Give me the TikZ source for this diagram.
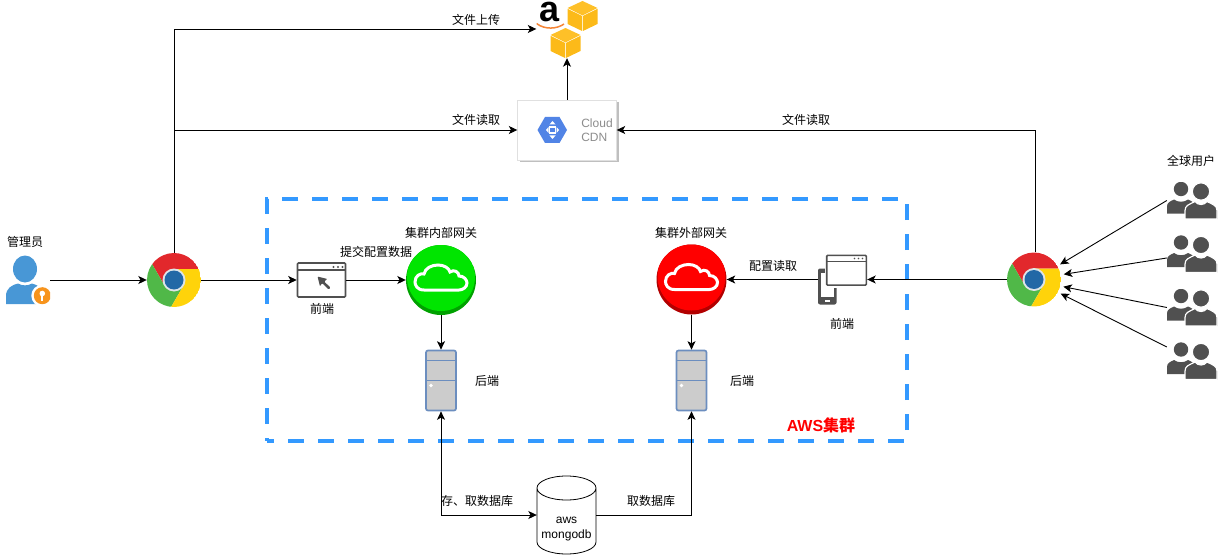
\documentclass[tikz,border=0pt]{standalone}
\usepackage{fontspec}
\setmainfont{Noto Sans CJK SC}
\newfontfamily\latinfont{Liberation Sans}
\usetikzlibrary{arrows.meta,shadows}
\definecolor{IconGray}{RGB}{80,80,80}
\definecolor{AwsBlue}{RGB}{51,153,255}
\definecolor{AwsYellow}{RGB}{252,186,25}
\definecolor{AwsYellowTop}{RGB}{254,192,40}
\definecolor{AwsOrange}{RGB}{245,133,54}
\definecolor{ChromeRed}{RGB}{226,40,44}
\definecolor{ChromeGreen}{RGB}{80,184,72}
\definecolor{ChromeYellow}{RGB}{255,211,10}
\definecolor{ChromeBlue}{RGB}{34,104,166}
\definecolor{ChromeRing}{RGB}{222,228,232}
\definecolor{AdminBlue}{RGB}{72,151,214}
\definecolor{KeyOrange}{RGB}{247,148,29}
\definecolor{CdnBlue}{RGB}{81,132,230}
\definecolor{ServerBorder}{RGB}{108,142,191}
\definecolor{ServerFill}{RGB}{204,204,204}
\newcommand{\awscube}[2]{%
  \fill[AwsYellowTop] (#1,#2-15) -- (#1+15,#2-8) -- (#1,#2-0.6) -- (#1-15,#2-8) -- cycle;
  \fill[AwsYellow] (#1-15,#2-7.2) -- (#1-0.4,#2) -- (#1-0.4,#2+15) -- (#1-15,#2+8) -- cycle;
  \fill[AwsYellow] (#1+15,#2-7.2) -- (#1+0.4,#2) -- (#1+0.4,#2+15) -- (#1+15,#2+8) -- cycle;
}
\newcommand{\cloudline}{%
  \draw[white,line width=3pt] (-17,10) .. controls (-24,10) and (-26,5) .. (-26,2)
    .. controls (-26,-4) and (-21,-7) .. (-17,-6) .. controls (-16,-12) and (-9,-15) .. (-3,-15)
    .. controls (3,-15) and (8,-12) .. (9,-8) .. controls (13,-11) and (18,-8) .. (18,-4)
    .. controls (23,-4) and (26,0) .. (26,3) .. controls (26,7) and (22,10) .. (18,10) -- cycle;
}
\tikzset{
  iconframe/.style={shift={(path picture bounding box.center)}},
  lbl/.style={font=\fontsize{12}{14}\selectfont, inner sep=0pt},
  reltip/.tip={Stealth[length=8.5pt,width=8pt,inset=2.2pt]},
  rel/.style={-reltip, line width=0.9pt, black},
  fanrel/.style={rel, shorten >=3pt},
  awsbox/.style={draw=AwsBlue, line width=4.5pt, dash pattern=on 16pt off 14pt, dash phase=9pt,
                minimum width=640, minimum height=242},
  chromeicon/.style={circle, minimum size=54, inner sep=0pt, path picture={
    \begin{scope}[iconframe]
      \fill[ChromeRed] (0,0) -- (90:11pt) -- (24:27pt) arc[start angle=24,end angle=144,radius=27pt] -- (210:11pt) -- cycle;
      \fill[ChromeGreen] (0,0) -- (210:11pt) -- (144:27pt) arc[start angle=144,end angle=264,radius=27pt] -- (330:11pt) -- cycle;
      \fill[ChromeYellow] (0,0) -- (330:11pt) -- (264:27pt) arc[start angle=264,end angle=384,radius=27pt] -- (90:11pt) -- cycle;
      \fill[ChromeRing] (0,0) circle[radius=11.5pt];
      \fill[ChromeBlue] (0,0) circle[radius=9.5pt];
    \end{scope}}},
  gateway/.style={circle, minimum size=70, inner sep=0pt, path picture={
    \begin{scope}[iconframe]
      \fill[#1!70!black] (-40,-40) rectangle (40,40);
      \fill[#1] (0,-3) circle[radius=34pt];
      \cloudline
    \end{scope}}},
  serverbox/.style={draw=ServerBorder, fill=ServerFill, line width=1.7pt, rounded corners=2pt,
    minimum width=30, minimum height=60, inner sep=0pt, path picture={
    \begin{scope}[iconframe]
      \draw[ServerBorder,line width=1.5pt] (-16,-20) -- (16,-20) (-16,0) -- (16,0);
      \fill[white] (-10,5) circle[radius=1.8pt];
    \end{scope}}},
  windowicon/.style={draw=IconGray, fill=white, line width=1.6pt, rounded corners=1pt,
    minimum width=48, minimum height=34, inner sep=0pt, path picture={
    \begin{scope}[iconframe]
      \draw[IconGray,line width=1.5pt] (-25,-10) -- (25,-10);
      \foreach \dotx in {12,16.5,21}{\fill[IconGray] (\dotx,-13) circle[radius=1.1pt];}
      \fill[IconGray] (-4,-3.5) -- (6,-1) -- (2.5,1.5) -- (9,7.5) -- (7,9.5) -- (0.5,3) -- (-1.5,6.5) -- cycle;
    \end{scope}}},
  deviceicon/.style={minimum width=49, minimum height=50, inner sep=0pt, path picture={
    \begin{scope}[iconframe]
      \fill[IconGray,rounded corners=2pt] (-24.5,-11) rectangle (-6,25);
      \fill[white] (-22,-7) rectangle (-8.5,17);
      \fill[white] (-17.5,20) rectangle (-13,22);
      \fill[white] (-18,-25) rectangle (24.5,8);
      \draw[IconGray,fill=white,line width=1.6pt,rounded corners=1pt] (-15.8,-24.2) rectangle (23.8,5.6);
      \draw[IconGray,line width=1.5pt] (-15.8,-18) -- (23.8,-18);
      \foreach \dotx in {12,16,20}{\fill[IconGray] (\dotx,-21) circle[radius=0.9pt];}
    \end{scope}}},
  usersicon/.style={minimum width=50, minimum height=37, inner sep=0pt, path picture={
    \begin{scope}[iconframe]
      \fill[IconGray] (-11,-11.5) circle[radius=7.2pt];
      \fill[IconGray] (-25,13) -- (-25,6) .. controls (-25,2) and (-22,1) .. (-18,-1) .. controls (-14,2) and (-8,2) .. (-4,-1)
        .. controls (0,1) and (3,2) .. (3,6) -- (3,13) -- cycle;
      \fill[IconGray,draw=white,line width=1.2pt] (9,-9) circle[radius=8.7pt];
      \fill[IconGray,draw=white,line width=1.2pt] (-7,18.5) -- (-7,10) .. controls (-7,5) and (-3,4) .. (3,1) .. controls (6,5) and (12,5) .. (15,1)
        .. controls (21,4) and (25,5) .. (25,10) -- (25,18.5) -- cycle;
      \fill[white] (-10,18) rectangle (28,20);
    \end{scope}}},
  adminicon/.style={minimum width=44, minimum height=50, inner sep=0pt, path picture={
    \begin{scope}[iconframe]
      \fill[AdminBlue] (-3,-11) ellipse[x radius=12pt,y radius=13.5pt];
      \fill[AdminBlue] (-22,24) -- (-22,16) .. controls (-22,8) and (-16,5) .. (-10,3.5) .. controls (-6,6) and (0,6) .. (4,3.5)
        .. controls (10,5) and (14,8) .. (16,14) -- (16,24) -- cycle;
      \fill[white] (14.3,15.7) circle[radius=11pt];
      \fill[KeyOrange] (14.3,15.7) circle[radius=8.5pt];
      \fill[white] (14.3,13.5) circle[radius=2.8pt];
      \fill[white] (13.3,14) rectangle (15.3,21);
    \end{scope}}},
  cdncard/.style={draw=black!12, fill=white, minimum width=99, minimum height=60, inner sep=0pt,
    general shadow={shadow xshift=2pt, shadow yshift=-2pt, fill=black!25}, path picture={
    \begin{scope}[iconframe]
      \fill[CdnBlue] (-29.5,0) -- (-22,-13) -- (-7.5,-13) -- (0,0) -- (-7.5,13) -- (-22,13) -- cycle;
      \draw[white,line width=1.1pt] (-17.5,-3) rectangle (-11.5,3);
      \fill[white] (-14.5,-9) -- (-11.5,-5.5) -- (-17.5,-5.5) -- cycle;
      \fill[white] (-14.5,9) -- (-11.5,5.5) -- (-17.5,5.5) -- cycle;
      \fill[white] (-21,0) -- (-18.5,-3) -- (-18.5,3) -- cycle;
      \fill[white] (-8,0) -- (-10.5,-3) -- (-10.5,3) -- cycle;
    \end{scope}}},
  s3icon/.style={minimum width=61, minimum height=58, inner sep=0pt, path picture={
    \begin{scope}[iconframe]
      \awscube{15.5}{-13}
      \awscube{-1.5}{14}
      \draw[AwsOrange,line width=1.5pt] (-30.5,-5.5) .. controls (-22,1) and (-10,0) .. (-3,-5);
    \end{scope}}},
  dbbox/.style={minimum width=59, minimum height=78, inner sep=0pt},
  dbline/.style={draw=black, fill=white, line width=0.8pt},
}
\begin{document}
\begin{tikzpicture}[x=1pt,y=-1pt]
  \useasboundingbox (0,0) rectangle (1222,556);

  \node[awsbox] (awscluster) at (587,320) {};
  \node[lbl,text=red,font=\fontsize{16}{18}\selectfont\bfseries] (awslabel) at (821,425) {{\latinfont AWS}集群};

  \node[adminicon] (admin) at (28,280) {};
  \node[lbl] (adminlabel) at (25,242) {管理员};
  \node[chromeicon] (chromeL) at (174,280) {};
  \node[chromeicon] (chromeR) at (1034,279.5) {};

  \node[s3icon] (s3) at (567,29) {};
  \node[anchor=base,inner sep=0pt,font=\latinfont\bfseries\fontsize{36}{36}\selectfont] (s3letter) at (549.5,22) {a};
  \node[cdncard] (cdn) at (567,130) {};
  \node[lbl,text=black!45,align=left,font=\fontsize{12}{14}\selectfont\latinfont] (cdntext) at (597,130) {Cloud\\CDN};

  \node[windowicon] (frontL) at (321.5,280) {};
  \node[lbl] (frontLlabel) at (322,309) {前端};
  \node[gateway=green!90!black] (gatewayIn) at (441,280) {};
  \node[lbl] (gatewayInlabel) at (441,233) {集群内部网关};
  \node[serverbox] (serverL) at (441,380.5) {};
  \node[lbl] (serverLlabel) at (487,381) {后端};

  \node[deviceicon] (frontR) at (842.5,279.5) {};
  \node[lbl] (frontRlabel) at (842,324) {前端};
  \node[gateway=red] (gatewayOut) at (691.5,279.5) {};
  \node[lbl] (gatewayOutlabel) at (691,233) {集群外部网关};
  \node[serverbox] (serverR) at (691.5,380.5) {};
  \node[lbl] (serverRlabel) at (742,381) {后端};

  \node[dbbox] (db) at (566.5,515) {};
  \draw[dbline,shift={(db.center)}] (-29.5,-27) -- (-29.5,27) arc[start angle=180,end angle=360,x radius=29.5pt,y radius=12pt]
    -- (29.5,-27) arc[start angle=0,end angle=180,x radius=29.5pt,y radius=12pt] -- cycle
    (-29.5,-27) arc[start angle=180,end angle=360,x radius=29.5pt,y radius=12pt];
  \node[lbl,align=center,font=\fontsize{12}{15}\selectfont\latinfont] (dblabel) at (566.5,529) {aws\\mongodb};

  \node[lbl] (userslabel) at (1191,161) {全球用户};
  \node[usersicon] (users1) at (1192,200.5) {};
  \node[usersicon] (users2) at (1192,254) {};
  \node[usersicon] (users3) at (1192,307.5) {};
  \node[usersicon] (users4) at (1192,361) {};

  \draw[rel] (admin.east) -- (chromeL.west);
  \draw[rel] (chromeL.north) |- (s3.west);
  \node[lbl] (uploadlabel) at (476,20) {文件上传};
  \draw[rel] (chromeL.north) |- (cdn.west);
  \node[lbl] (readLlabel) at (476,120) {文件读取};
  \draw[rel] (cdn.north) -- (s3.south);
  \draw[rel] (chromeR.86) |- (cdn.east);
  \node[lbl] (readRlabel) at (806,120) {文件读取};

  \draw[rel] (chromeL.east) -- (frontL.west);
  \draw[rel] (frontL.east) -- (gatewayIn.west);
  \node[lbl] (submitlabel) at (376,252) {提交配置数据};
  \draw[rel] (gatewayIn.south) -- (serverL.north);
  \draw[rel] (chromeR.west) -- (frontR.east);
  \draw[rel] (frontR.west) -- (gatewayOut.east);
  \node[lbl] (configlabel) at (773,266) {配置读取};
  \draw[rel] (gatewayOut.south) -- (serverR.north);

  \draw[reltip-reltip,line width=0.9pt] (serverL.south) |- (db.west);
  \node[lbl] (storelabel) at (477,501) {存、取数据库};
  \draw[rel] (db.east) -| (serverR.south);
  \node[lbl] (fetchlabel) at (651,501) {取数据库};

  \draw[fanrel] (users1.west) -- (chromeR.30);
  \draw[fanrel] (users2.189) -- (chromeR.10);
  \draw[fanrel] (users3.west) -- (chromeR.-14);
  \draw[fanrel] (users4.151) -- (chromeR.-28);
\end{tikzpicture}
\end{document}
